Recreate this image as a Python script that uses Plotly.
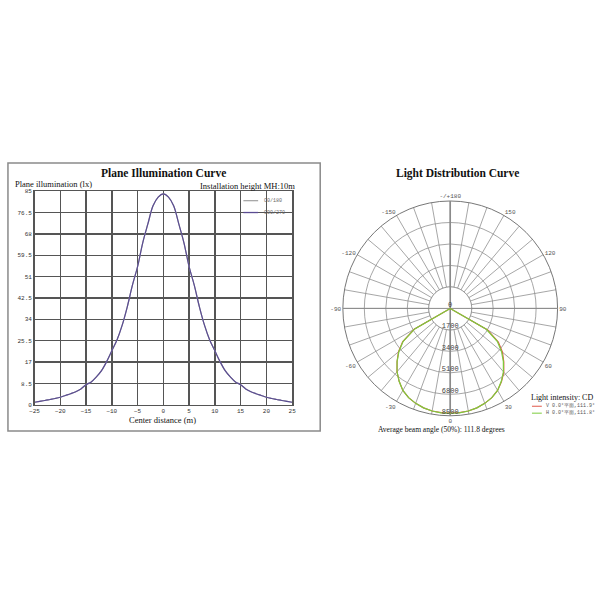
import plotly.graph_objects as go

# ---------------- data: plane illumination curve ----------------
distance_m = [-25, -24, -23, -22, -21, -20, -19, -18, -17, -16, -15, -14, -13, -12, -11, -10,
              -9, -8, -7, -6, -5, -4, -3, -2, -1, 0,
              1, 2, 3, 4, 5, 6, 7, 8, 9, 10, 11, 12, 13, 14, 15, 16, 17, 18, 19, 20,
              21, 22, 23, 24, 25]
illum_c0_180 = [1.0, 1.35, 1.7, 2.1, 2.5, 3.0, 3.7, 4.4, 5.2, 6.3, 8.0, 9.1, 11.1, 13.6, 17.2, 21.5,
                25.8, 31.6, 39.0, 47.6, 55.0, 64.5, 72.0, 79.2, 82.7, 84.0,
                82.7, 79.2, 72.0, 64.5, 55.0, 47.6, 39.0, 31.6, 25.8, 21.5, 17.2, 13.6, 11.1, 9.1,
                8.0, 6.3, 5.2, 4.4, 3.7, 3.0, 2.5, 2.1, 1.7, 1.35, 1.0]
illum_c90_270 = [1.0, 1.35, 1.7, 2.1, 2.5, 3.0, 3.7, 4.4, 5.2, 6.3, 8.0, 9.1, 11.1, 13.6, 17.2, 21.5,
                 25.8, 31.6, 39.0, 47.6, 55.0, 64.5, 72.0, 79.2, 82.7, 84.0,
                 82.7, 79.2, 72.0, 64.5, 55.0, 47.6, 39.0, 31.6, 25.8, 21.5, 17.2, 13.6, 11.1, 9.1,
                 8.0, 6.3, 5.2, 4.4, 3.7, 3.0, 2.5, 2.1, 1.7, 1.35, 1.0]
plane_series_names = ["C0/180", "C90/270"]
x_ticks = [-25, -20, -15, -10, -5, 0, 5, 10, 15, 20, 25]
y_ticks = [0, 8.5, 17, 25.5, 34, 42.5, 51, 59.5, 68, 76.5, 85]
y_tick_labels = ["0", "8.5", "17", "25.5", "34", "42.5", "51", "59.5", "68", "76.5", "85"]

# ---------------- data: light distribution curve ----------------
angles_deg = [-90, -85, -80, -75, -70, -65, -60, -55, -50, -45, -40, -35, -30, -25, -20, -15, -10, -5, 0,
              5, 10, 15, 20, 25, 30, 35, 40, 45, 50, 55, 60, 65, 70, 75, 80, 85, 90]
intensity_v = [0, 0, 0, 0, 0, 0, 3300, 4600, 5350, 5950, 6550, 7050, 7500, 7800, 8000, 8150, 8250, 8280, 8280,
               8280, 8250, 8150, 8000, 7800, 7500, 7080, 6600, 6000, 5400, 4650, 3420, 0, 0, 0, 0, 0, 0]
intensity_h = [0, 0, 0, 0, 0, 0, 3250, 4550, 5300, 5950, 6550, 7050, 7500, 7800, 8000, 8150, 8250, 8300, 8300,
               8300, 8250, 8150, 8000, 7800, 7500, 7050, 6550, 5950, 5300, 4550, 3300, 0, 0, 0, 0, 0, 0]
polar_series_names = ["V 0.0°平面,111.9°", "H 0.0°平面,111.8°"]
radial_ticks = [0, 1700, 3400, 5100, 6800, 8500]
radial_tick_labels = ["0", "1700", "3400", "5100", "6800", "8500"]
angular_label_vals = [0, 30, 60, 90, 120, 150, 180, 210, 240, 270, 300, 330]
angular_label_text = ["0", "30", "60", "90", "120", "150", "-/+180", "-150", "-120", "-90", "-60", "-30"]

SERIF = "Liberation Serif"
MONO = "Liberation Mono"
PLANE_COLORS = ["#a8a8a8", "#5a4c92"]
POLAR_COLORS = ["#e0584a", "#7ccc3c"]

W = H = 600.0


def px(x):
    return x / W


def py(y):
    return 1 - y / H


fig = go.Figure()

# left chart
fig.add_trace(go.Scatter(x=distance_m, y=illum_c0_180, mode="lines", name=plane_series_names[0],
                         line=dict(color=PLANE_COLORS[0], width=1.2, shape="spline"),
                         xaxis="x", yaxis="y", showlegend=False))
fig.add_trace(go.Scatter(x=distance_m, y=illum_c90_270, mode="lines", name=plane_series_names[1],
                         line=dict(color=PLANE_COLORS[1], width=1.2, shape="spline"),
                         xaxis="x", yaxis="y", showlegend=False))

# polar helpers
circle_theta = list(range(0, 361, 5))
fig.add_trace(go.Scatterpolar(r=[radial_ticks[1]] * len(circle_theta), theta=circle_theta,
                              mode="lines", fill="toself", fillcolor="white",
                              line=dict(color="#8a8a8a", width=0.8),
                              showlegend=False, hoverinfo="skip", subplot="polar"))
fig.add_trace(go.Scatterpolar(r=[radial_ticks[-1], 0, radial_ticks[-1]], theta=[180, 180, 0],
                              mode="lines", line=dict(color="#8a8a8a", width=1.6),
                              showlegend=False, hoverinfo="skip", subplot="polar"))
fig.add_trace(go.Scatterpolar(r=[radial_ticks[-1], 0, radial_ticks[-1]], theta=[90, 90, 270],
                              mode="lines", line=dict(color="#8a8a8a", width=1.0),
                              showlegend=False, hoverinfo="skip", subplot="polar"))

fig.add_trace(go.Scatterpolar(r=intensity_v, theta=angles_deg, mode="lines",
                              name=polar_series_names[0], line=dict(color=POLAR_COLORS[0], width=1.2),
                              subplot="polar", showlegend=False))
fig.add_trace(go.Scatterpolar(r=intensity_h, theta=angles_deg, mode="lines",
                              name=polar_series_names[1], line=dict(color=POLAR_COLORS[1], width=1.2),
                              subplot="polar", showlegend=False))

fig.add_trace(go.Scatterpolar(r=radial_ticks, theta=[0] * len(radial_ticks), mode="text",
                              text=radial_tick_labels, textposition="top center",
                              textfont=dict(family=MONO, size=7, color="#444"),
                              showlegend=False, hoverinfo="skip", subplot="polar"))

shapes = [dict(type="rect", xref="paper", yref="paper", x0=px(3), x1=px(320), y0=py(433), y1=py(162),
               line=dict(color="#8a8a8a", width=1.5))]
TITLE_FONT = dict(family=SERIF, size=11.5, color="#111", weight="bold")
annotations = [
    dict(text="Plane Illumination Curve", x=px(161), y=py(172), xanchor="center", font=TITLE_FONT),
    dict(text="Plane illumination (lx)", x=px(8), y=py(183), xanchor="left",
         font=dict(family=SERIF, size=8.5, color="#111")),
    dict(text="Installation height MH:10m", x=px(296), y=py(185), xanchor="right",
         font=dict(family=SERIF, size=8.5, color="#111")),
    dict(text="Center distance (m)", x=px(160), y=py(422), xanchor="center",
         font=dict(family=SERIF, size=8.5, color="#111")),
    dict(text="Light Distribution Curve", x=px(459), y=py(173), xanchor="center", font=TITLE_FONT),
    dict(text="Average beam angle (50%): 111.8 degrees", x=px(443), y=py(432), xanchor="center",
         font=dict(family=SERIF, size=7.5, color="#111")),
    dict(text="Light intensity: CD", x=px(532), y=py(399), xanchor="left",
         font=dict(family=SERIF, size=8, color="#111")),
]
for a in annotations:
    a.update(xref="paper", yref="paper", showarrow=False, yanchor="middle")

# legend for plane illumination chart
for i, (name, col) in enumerate(zip(plane_series_names, PLANE_COLORS)):
    yy = 200 + 12 * i
    shapes.append(dict(type="line", xref="paper", yref="paper", x0=px(242), x1=px(257),
                       y0=py(yy), y1=py(yy), line=dict(color=col, width=1.3)))
    annotations.append(dict(text=name, x=px(261), y=py(yy), xref="paper", yref="paper",
                            xanchor="left", yanchor="middle", showarrow=False,
                            font=dict(family=MONO, size=5, color="#666")))
# legend for light distribution chart
for i, (name, col) in enumerate(zip(polar_series_names, POLAR_COLORS)):
    yy = 408 + 7 * i
    shapes.append(dict(type="line", xref="paper", yref="paper", x0=px(535), x1=px(545),
                       y0=py(yy), y1=py(yy), line=dict(color=col, width=1.0)))
    annotations.append(dict(text=name, x=px(547), y=py(yy), xref="paper", yref="paper",
                            xanchor="left", yanchor="middle", showarrow=False,
                            font=dict(family=MONO, size=5, color="#555")))

fig.update_layout(
    width=600, height=600,
    margin=dict(l=0, r=0, t=0, b=0),
    paper_bgcolor="white", plot_bgcolor="white",
    showlegend=False,
    xaxis=dict(domain=[px(30), px(291.5)], range=[-25, 25], tickvals=x_ticks,
               showgrid=True, gridcolor="#555", gridwidth=1.5,
               showline=True, linecolor="#555", linewidth=1.5, mirror=True,
               zeroline=False, ticks="", tickfont=dict(family=MONO, size=6, color="#333")),
    yaxis=dict(domain=[py(406.5), py(190.5)], range=[0, 85], tickvals=y_ticks, ticktext=y_tick_labels,
               showgrid=True, gridcolor="#555", gridwidth=1.5,
               showline=True, linecolor="#555", linewidth=1.5, mirror=True,
               zeroline=False, ticks="", tickfont=dict(family=MONO, size=6, color="#333")),
    polar=dict(
        domain=dict(x=[px(343), px(561)], y=[py(418), py(200)]),
        bgcolor="white",
        angularaxis=dict(rotation=270, direction="counterclockwise",
                         tickmode="array", tickvals=list(range(0, 360, 10)),
                         ticktext=[angular_label_text[angular_label_vals.index(a)] if a in angular_label_vals else ""
                                   for a in range(0, 360, 10)],
                         ticks="", showline=True, linecolor="#777", linewidth=1,
                         gridcolor="#8f8f8f", gridwidth=0.8, layer="below traces",
                         tickfont=dict(family=MONO, size=6, color="#555")),
        radialaxis=dict(range=[0, 8500], tickvals=radial_ticks[1:], showticklabels=False,
                        ticks="", showline=False, gridcolor="#8f8f8f", gridwidth=0.8,
                        layer="below traces"),
    ),
    shapes=shapes,
    annotations=annotations,
)

fig.write_html("out.html", config={"displayModeBar": False, "staticPlot": True},
               post_script="document.body.style.margin='0';document.body.style.overflow='hidden';")
